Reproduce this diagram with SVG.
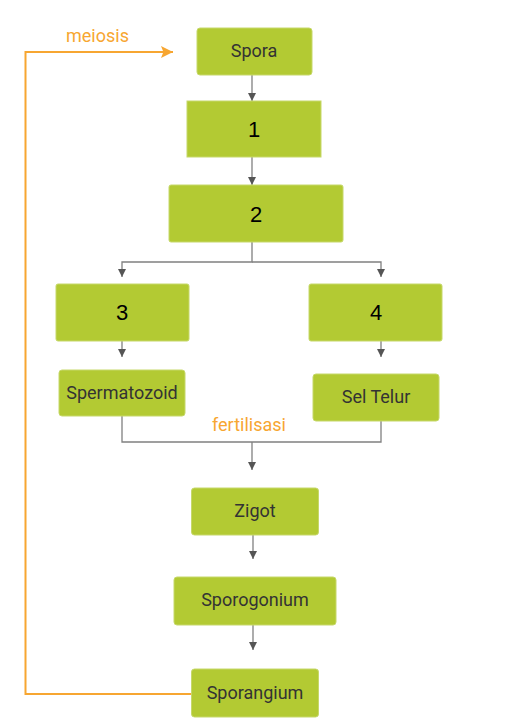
<svg xmlns="http://www.w3.org/2000/svg" width="529" height="728" viewBox="0 0 529 728">
<style>
.box{fill:#b3ca33;stroke:#c6d86a;stroke-width:1}
.lbl{font-family:Roboto,"Liberation Sans",sans-serif;font-size:18px;fill:#333;text-anchor:middle}
.num{font-family:"Liberation Sans",Arial,sans-serif;font-size:22px;fill:#000;text-anchor:middle}
.or{font-family:Roboto,"Liberation Sans",sans-serif;font-size:18px;fill:#f7a631}
.ln{fill:none;stroke:#808080;stroke-width:1.3}
.ol{fill:none;stroke:#f7a631;stroke-width:2}
</style>
<defs>
<marker id="ah" viewBox="0 0 10 10" refX="10" refY="5" markerWidth="8" markerHeight="8" markerUnits="userSpaceOnUse" orient="auto">
<path d="M0,0 L10,5 L0,10 z" fill="#555"/>
</marker>
<marker id="oh" viewBox="0 0 10 10" refX="10" refY="5" markerWidth="14" markerHeight="12" markerUnits="userSpaceOnUse" orient="auto">
<path d="M0,0 L10,5 L0,10 L2,5 z" fill="#f7a631"/>
</marker>
</defs>
<g id="connectors">
<path class="ln" d="M252,75 V101" marker-end="url(#ah)"/>
<path class="ln" d="M252,157 V185" marker-end="url(#ah)"/>
<path class="ln" d="M252,242 V262 H122 V277" marker-end="url(#ah)"/>
<path class="ln" d="M252,262 H381 V277" marker-end="url(#ah)"/>
<path class="ln" d="M122,341 V357" marker-end="url(#ah)"/>
<path class="ln" d="M381,341 V357" marker-end="url(#ah)"/>
<path class="ln" d="M122,416 V442 H381 V421"/>
<path class="ln" d="M252,442 V470" marker-end="url(#ah)"/>
<path class="ln" d="M253,535 V559" marker-end="url(#ah)"/>
<path class="ln" d="M253,625 V650" marker-end="url(#ah)"/>
<path class="ol" d="M191,694 H25.5 V52 H173" marker-end="url(#oh)"/>
<text class="or" x="66" y="42">meiosis</text>
<text class="or" x="212" y="431">fertilisasi</text>
</g>
<g id="spora"><rect class="box" x="197" y="28" width="115" height="47" rx="3"/><text class="lbl" x="254" y="57">Spora</text></g>
<g id="n1"><rect class="box" x="187" y="101" width="134" height="56"/><text class="num" x="254" y="137">1</text></g>
<g id="n2"><rect class="box" x="169" y="185" width="174" height="57" rx="2"/><text class="num" x="256" y="222">2</text></g>
<g id="n3"><rect class="box" x="56" y="284" width="133" height="57" rx="2"/><text class="num" x="122" y="320">3</text></g>
<g id="n4"><rect class="box" x="309" y="284" width="133" height="57" rx="2"/><text class="num" x="376" y="320">4</text></g>
<g id="spermatozoid"><rect class="box" x="59" y="370" width="126" height="46" rx="3"/><text class="lbl" x="122" y="399">Spermatozoid</text></g>
<g id="seltelur"><rect class="box" x="313" y="374" width="126" height="47" rx="3"/><text class="lbl" x="376" y="403">Sel Telur</text></g>
<g id="zigot"><rect class="box" x="191.5" y="488" width="127" height="47" rx="3"/><text class="lbl" x="255" y="517">Zigot</text></g>
<g id="sporogonium"><rect class="box" x="174" y="577" width="162" height="48" rx="3"/><text class="lbl" x="255" y="606">Sporogonium</text></g>
<g id="sporangium"><rect class="box" x="191.5" y="669" width="127" height="48" rx="3"/><text class="lbl" x="255" y="699">Sporangium</text></g>
</svg>
